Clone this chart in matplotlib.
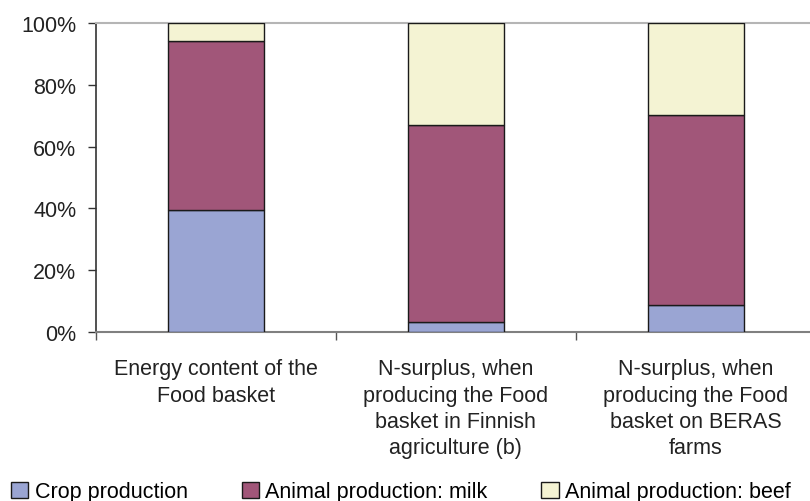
import numpy as np
import matplotlib
matplotlib.use('Agg')
import matplotlib.pyplot as plt
from matplotlib.ticker import FixedLocator, PercentFormatter

categories = [
    'Energy content of the\nFood basket',
    'N-surplus, when\nproducing the Food\nbasket in Finnish\nagriculture (b)',
    'N-surplus, when\nproducing the Food\nbasket on BERAS\nfarms',
]
crop = [39.4, 3.3, 8.8]
milk = [54.8, 63.6, 61.4]
beef = [5.8, 33.1, 29.8]

series_names = ['Crop production', 'Animal production: milk', 'Animal production: beef']
colors = ['#9AA5D3', '#A15679', '#F4F3D3']

plt.rcParams['font.family'] = ['Liberation Sans', 'DejaVu Sans']
FS = 15.5

fig = plt.figure(figsize=(8.1, 5.02), dpi=100)
ax = fig.add_axes([95.7 / 810, 169 / 502, 720 / 810, 309 / 502])

x = np.arange(len(categories))
bottom = np.zeros(len(categories))
for vals, name, col in zip([crop, milk, beef], series_names, colors):
    ax.bar(x, vals, width=0.4, bottom=bottom, color=col, edgecolor='#1a1a1a',
           linewidth=1.0, label=name, zorder=3)
    bottom = bottom + np.array(vals)

ax.set_xlim(-0.5, 2.5)
ax.set_ylim(0, 100)

# y axis
ax.set_yticks(np.arange(0, 101, 20))
ax.yaxis.set_major_formatter(PercentFormatter(decimals=0))
ax.tick_params(axis='y', direction='out', length=6, width=1, color='#333333',
               labelsize=FS, labelcolor='#222222', pad=8)

# x axis: ticks at boundaries, labels centred under the bars
ax.xaxis.set_major_locator(FixedLocator([-0.5, 0.5, 1.5, 2.5]))
ax.xaxis.set_minor_locator(FixedLocator(x))
ax.tick_params(axis='x', which='major', direction='out', length=6, width=1,
               color='#555555', labelbottom=False)
ax.tick_params(axis='x', which='minor', length=0, pad=19, labelsize=FS,
               labelcolor='#222222')
ax.set_xticklabels(categories, minor=True, linespacing=1.32)

ax.spines['left'].set_color('#333333')
ax.spines['left'].set_linewidth(1.2)
ax.spines['bottom'].set_color('#808080')
ax.spines['bottom'].set_linewidth(1.5)
ax.spines['top'].set_color('#B5B5B5')
ax.spines['top'].set_linewidth(1.5)
ax.spines['right'].set_visible(False)

fig.legend(loc='center', bbox_to_anchor=(0.495, 0.018), ncol=3, frameon=False,
           fontsize=FS, handlelength=0.8, handleheight=0.8, handletextpad=0.3,
           columnspacing=2.5, borderpad=0, borderaxespad=0)

fig.savefig('out.png', dpi=100)
